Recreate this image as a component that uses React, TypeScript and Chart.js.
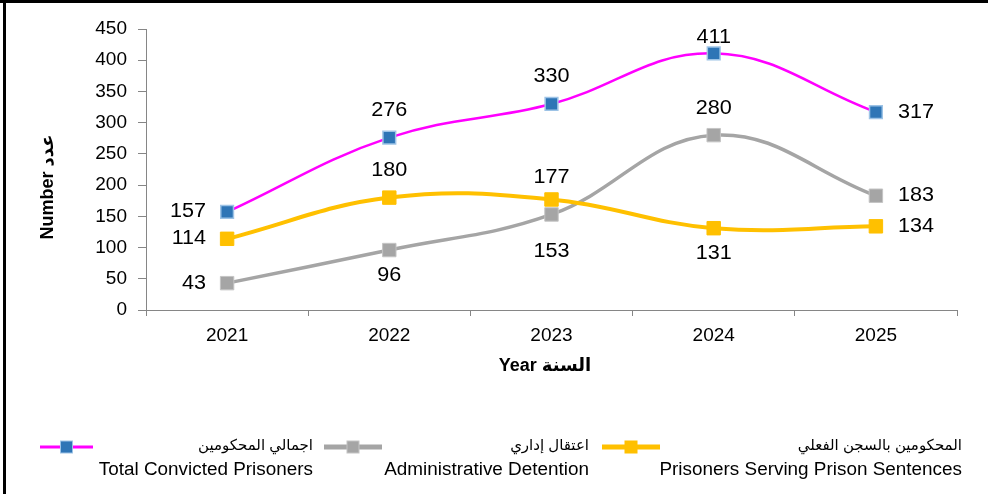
import React, { useEffect, useRef } from 'react';
import { Chart, registerables } from 'chart.js';

Chart.register(...registerables);

const years = ['2021', '2022', '2023', '2024', '2025'];
const totalConvicted = [157, 276, 330, 411, 317];
const adminDetention = [43, 96, 153, 280, 183];
const prisonSentences = [114, 180, 177, 131, 134];

const namesAr = ['اجمالي المحكومين', 'اعتقال إداري', 'المحكومين بالسجن الفعلي'];
const namesEn = ['Total Convicted Prisoners', 'Administrative Detention', 'Prisoners Serving Prison Sentences'];
const xTitle = 'Year السنة';
const yTitle = 'Number عدد';

const totalLabelPos = ['left', 'above', 'above', 'above', 'right'];
const adminLabelPos = ['left', 'below', 'belowFar', 'above', 'right'];
const prisonLabelPos = ['left', 'above', 'aboveNear', 'below', 'right'];

const FONT = "'Liberation Sans', Arial, 'DejaVu Sans', sans-serif";

const PINK = '#FF00FF';
const BLUE = '#2E75B6';
const BLUE_EDGE = '#9DC3E6';
const GREY = '#A5A5A5';
const GREY_EDGE = '#C4C4C4';
const YELLOW = '#FFC000';

const legendItems = [
  { line: PINK, lineW: 3, fill: BLUE, edge: BLUE_EDGE, x1: 40, x2: 93, right: 313 },
  { line: GREY, lineW: 5, fill: GREY, edge: GREY_EDGE, x1: 324, x2: 382, right: 589 },
  { line: YELLOW, lineW: 5, fill: YELLOW, edge: YELLOW, x1: 602, x2: 660, right: 962 },
];

function stretchedText(ctx: any, txt: string, x: number, y: number, sx: number) {
  ctx.save();
  ctx.translate(x, y);
  ctx.scale(sx, 1);
  ctx.fillText(txt, 0, 0);
  ctx.restore();
}

const decorPlugin = {
  id: 'decor',
  beforeDraw(chart: any) {
    const ctx = chart.ctx;
    ctx.save();
    ctx.fillStyle = '#fff';
    ctx.fillRect(0, 0, chart.width, chart.height);
    ctx.restore();
  },
  afterDatasetsDraw(chart: any) {
    const ctx = chart.ctx;
    const area = chart.chartArea;
    ctx.save();
    ctx.font = `20px ${FONT}`;
    ctx.fillStyle = '#000';
    ctx.textBaseline = 'middle';
    chart.data.datasets.forEach((ds: any, i: number) => {
      const meta = chart.getDatasetMeta(i);
      meta.data.forEach((el: any, j: number) => {
        const pos = ds.labelPos[j];
        const txt = String(ds.data[j]);
        let x = el.x;
        let y = el.y;
        if (pos === 'left') {
          ctx.textAlign = 'right';
          x -= 21;
        } else if (pos === 'right') {
          ctx.textAlign = 'left';
          x += 22;
        } else if (pos === 'above') {
          ctx.textAlign = 'center';
          y = Math.max(y - 27, area.top + 8);
        } else if (pos === 'aboveNear') {
          ctx.textAlign = 'center';
          y -= 22;
        } else if (pos === 'belowFar') {
          ctx.textAlign = 'center';
          y += 37;
        } else {
          ctx.textAlign = 'center';
          y += 25;
        }
        stretchedText(ctx, txt, x, y, 1.08);
      });
    });
    ctx.restore();
  },
  afterDraw(chart: any) {
    const ctx = chart.ctx;
    ctx.save();
    // frame
    ctx.fillStyle = '#000';
    ctx.fillRect(0, 0, chart.width, 3);
    ctx.fillRect(3, 0, 3, chart.height);

    // axis titles
    ctx.font = `bold 18px ${FONT}`;
    ctx.textAlign = 'center';
    ctx.textBaseline = 'middle';
    ctx.fillText(xTitle, 545, 366);
    ctx.save();
    ctx.translate(48, 187);
    ctx.rotate(-Math.PI / 2);
    ctx.fillText(yTitle, 0, 0);
    ctx.restore();

    // legend
    legendItems.forEach((it, i) => {
      const y = 447;
      ctx.strokeStyle = it.line;
      ctx.lineWidth = it.lineW;
      ctx.beginPath();
      ctx.moveTo(it.x1, y);
      ctx.lineTo(it.x2, y);
      ctx.stroke();
      const cx = (it.x1 + it.x2) / 2;
      ctx.fillStyle = it.fill;
      ctx.fillRect(cx - 6, y - 6, 12, 12);
      ctx.strokeStyle = it.edge;
      ctx.lineWidth = 1;
      ctx.strokeRect(cx - 6, y - 6, 12, 12);
      ctx.fillStyle = '#000';
      ctx.textAlign = 'right';
      ctx.textBaseline = 'middle';
      ctx.font = `15px ${FONT}`;
      ctx.fillText(namesAr[i], it.right, 446);
      ctx.font = `18px ${FONT}`;
      stretchedText(ctx, namesEn[i], it.right, 470, 1.05);
    });
    ctx.restore();
  },
};

export default function App() {
  const ref = useRef<HTMLCanvasElement | null>(null);

  useEffect(() => {
    const canvas = ref.current;
    if (!canvas) return;
    const chart = new Chart(canvas, {
      type: 'line',
      data: {
        labels: years,
        datasets: [
          {
            label: namesEn[0],
            data: totalConvicted,
            labelPos: totalLabelPos,
            borderColor: PINK,
            borderWidth: 2.5,
            backgroundColor: BLUE,
            pointBackgroundColor: BLUE,
            pointBorderColor: BLUE_EDGE,
            pointBorderWidth: 1.5,
            pointStyle: 'rect',
            pointRadius: 9,
            tension: 0.4,
            fill: false,
          } as any,
          {
            label: namesEn[2],
            data: prisonSentences,
            labelPos: prisonLabelPos,
            borderColor: YELLOW,
            borderWidth: 4,
            backgroundColor: YELLOW,
            pointBackgroundColor: YELLOW,
            pointBorderColor: YELLOW,
            pointBorderWidth: 1,
            pointStyle: 'rect',
            pointRadius: 9.5,
            tension: 0.4,
            fill: false,
          } as any,
          {
            label: namesEn[1],
            data: adminDetention,
            labelPos: adminLabelPos,
            borderColor: GREY,
            borderWidth: 3.5,
            backgroundColor: GREY,
            pointBackgroundColor: GREY,
            pointBorderColor: GREY_EDGE,
            pointBorderWidth: 1,
            pointStyle: 'rect',
            pointRadius: 9.5,
            tension: 0.4,
            fill: false,
          } as any,
        ],
      },
      options: {
        responsive: false,
        animation: false,
        devicePixelRatio: 1,
        layout: { padding: { top: 29, right: 31, left: 0, bottom: 0 } },
        plugins: {
          legend: { display: false },
          tooltip: { enabled: false },
          title: { display: false },
        },
        scales: {
          x: {
            type: 'category',
            offset: true,
            grid: {
              offset: true,
              drawOnChartArea: false,
              tickLength: 6,
              color: '#868686',
            },
            border: { color: '#868686', width: 1 },
            ticks: {
              color: '#000',
              font: { family: FONT, size: 19 },
              padding: 8,
              maxRotation: 0,
            },
            afterFit: (s: any) => {
              s.height = 184;
            },
          },
          y: {
            min: 0,
            max: 450,
            grid: {
              drawOnChartArea: false,
              tickLength: 8,
              color: '#868686',
            },
            border: { color: '#868686', width: 1 },
            ticks: {
              stepSize: 50,
              color: '#000',
              font: { family: FONT, size: 19 },
              padding: 11,
            },
            afterFit: (s: any) => {
              s.width = 146;
            },
          },
        },
      } as any,
      plugins: [decorPlugin],
    });
    return () => chart.destroy();
  }, []);

  return (
    <div style={{ position: 'fixed', left: 0, top: 0, width: 988, height: 494, background: '#fff' }}>
      <canvas ref={ref} width={988} height={494} style={{ display: 'block', width: 988, height: 494 }} />
    </div>
  );
}
